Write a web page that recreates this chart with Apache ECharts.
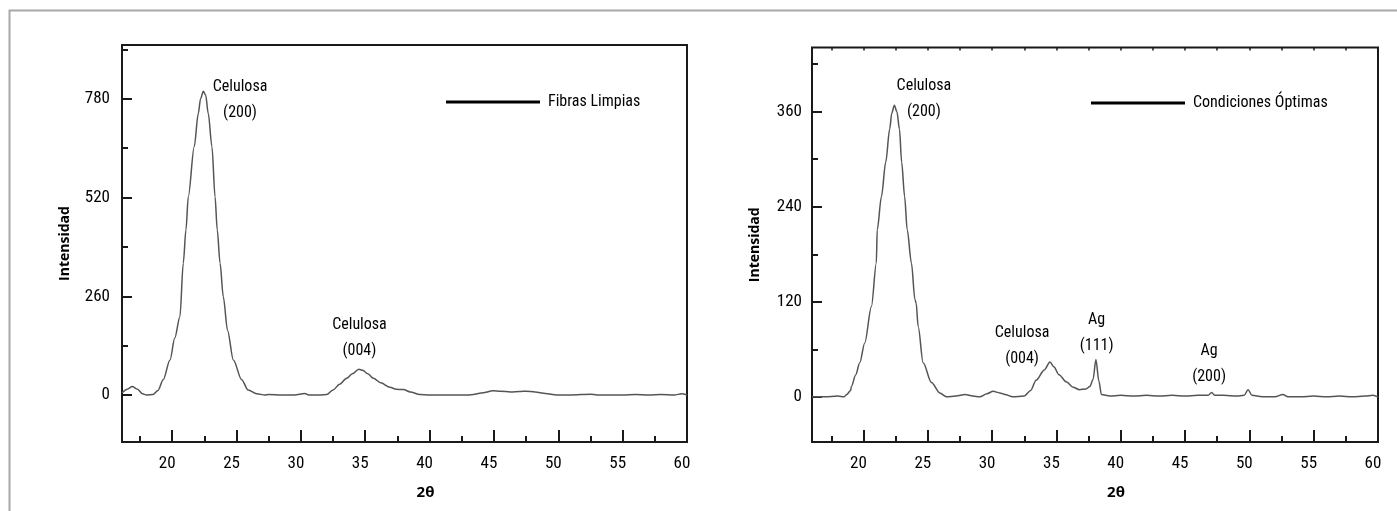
<!DOCTYPE html>
<html>
<head>
<meta charset="utf-8">
<script src="https://cdn.jsdelivr.net/npm/echarts@6/dist/echarts.min.js"></script>
<style>
html,body{margin:0;padding:0;background:#fff;}
#c{width:1397px;height:511px;}
</style>
</head>
<body>
<div id="c"></div>
<script>
// ---- Data ----
const leftName = 'Fibras Limpias';
const rightName = 'Condiciones Óptimas';

const leftX = [16.1,16.5,16.9,17.3,17.7,18.0,18.5,18.9,19.3,19.83,20.2,20.6,20.86,21.07,21.25,21.71,22.03,22.2,22.42,22.6,22.8,23.09,23.33,23.5,23.72,23.97,24.3,24.75,25.4,25.9,26.57,27.2,27.5,28.5,29.5,30.3,30.6,31.5,32.0,32.5,33.0,33.56,34.0,34.5,34.8,35.2,35.63,36.2,36.92,37.4,37.96,38.5,39.25,40,41,42,43,43.4,44,44.95,45.5,46.3,47.0,47.5,48.2,49.0,49.87,51,52.5,53,55,56,57,58,59,59.6,60];
const leftY = [5,15,22,15,3,0,1,12,40,92,150,206,347,435,522,654,742,780,800,790,742,654,522,435,347,259,170,92,40,13,3,0,1,0,0,4,0,0,1,13,28,44,56,68,65,56,44,32,20,15,14,8,1,0,0,0,0,1,5,11,10,8,9,10,8,4,0,0,2,0,0,1,0,1,0,3,0];

const rightX = [16.0,17,18,18.5,18.7,19.0,19.06,19.4,19.71,20.1,20.62,21.0,21.07,21.4,21.73,22.04,22.2,22.4,22.6,22.8,22.97,23.2,23.4,23.73,24.0,24.1,24.25,24.64,25.29,25.93,26.45,27.2,27.9,28.5,29.05,29.6,30.08,30.6,31.0,31.6,32.5,33.0,33.42,34.06,34.5,34.8,35.2,35.77,36.3,36.8,37.3,37.6,37.85,38.07,38.3,38.5,39.15,40,41,42,43,44,45,46,46.8,47.07,47.3,48,49,49.6,49.9,50.2,51,52,52.6,53,54,55,56,57,58,59,59.6,60];
const rightY = [0,0,1,0,3,8,13,28,43,68,114,169,211,253,296,338,358,368,360,338,296,253,211,169,123,118,89,43,18,5,0,1,3,1,0,4,7,5,3,0,1,8,21,34,44,38,28,19,12,9,10,13,22,47,20,3,1,2,1,2,1,2,1,2,2,5.5,2,2,1,2,9,2,0,0,3,0,0,1,0,1,0,1,2,0];

const xMajor = [20,25,30,35,40,45,50,55,60];
const xMinor = [17.5,22.5,27.5,32.5,37.5,42.5,47.5,52.5,57.5];
const leftYMajor = [0,260,520,780];
const leftYMinor = [130,390,650,910];
const rightYMajor = [0,120,240,360];
const rightYMinor = [60,180,300,420];
const rightTopTicks = [17.5,20,22.5,25,27.5,30,32.5,35,37.5,40,42.5,45,47.5,50,52.5,55,57.5];

const leftAnn = [
  {text:'Celulosa\n(200)', x:25.27, y:777},
  {text:'Celulosa\n(004)', x:34.55, y:150}
];
const rightAnn = [
  {text:'Celulosa\n(200)', x:24.7, y:376},
  {text:'Celulosa\n(004)', x:32.33, y:64},
  {text:'Ag\n(111)', x:38.13, y:81},
  {text:'Ag\n(200)', x:46.87, y:41}
];

// ---- Styles ----
const NARROW = '"Roboto Condensed", "Noto Sans Display", sans-serif';
const BOLD = '"Open Sans", "Noto Sans", sans-serif';
const AX = '#1a1a1a';

function zip(xs, ys){ return xs.map((x,i)=>[x, ys[i]]); }

function xAxisMajor(grid, min, withName){
  return {
    type:'value', gridIndex:grid, min:min, max:60, position:'bottom',
    axisLine:{show:false, onZero:false}, splitLine:{show:false},
    axisTick:{show:true, inside:true, length:12, customValues:xMajor, lineStyle:{color:AX, width:2}},
    axisLabel:{show:true, customValues:xMajor, margin:13, color:'#000', fontSize:17, fontFamily:NARROW, padding:[0,10,0,0]},
    name: withName ? '2θ' : '', nameLocation:'middle', nameGap:43,
    nameTextStyle:{fontFamily:BOLD, fontWeight:'bold', fontSize:15, color:'#000', padding:[0,0,0,42]}
  };
}
function xAxisMinor(grid, min){
  return {
    type:'value', gridIndex:grid, min:min, max:60, position:'bottom',
    axisLine:{show:false, onZero:false}, splitLine:{show:false}, axisLabel:{show:false},
    axisTick:{show:true, inside:true, length:6, customValues:xMinor, lineStyle:{color:AX, width:2}}
  };
}
function yAxisMajor(grid, min, max, vals, margin){
  return {
    type:'value', gridIndex:grid, min:min, max:max, position:'left',
    axisLine:{show:false, onZero:false}, splitLine:{show:false},
    axisTick:{show:true, inside:true, length:10, customValues:vals, lineStyle:{color:AX, width:2}},
    axisLabel:{show:true, customValues:vals, margin:margin, color:'#000', fontSize:17, fontFamily:NARROW},
    name:'Intensidad', nameLocation:'middle', nameGap:50, nameRotate:90,
    nameTextStyle:{fontFamily:BOLD, fontWeight:'bold', fontSize:14, color:'#000'}
  };
}
function yAxisMinor(grid, min, max, vals){
  return {
    type:'value', gridIndex:grid, min:min, max:max, position:'left',
    axisLine:{show:false, onZero:false}, splitLine:{show:false}, axisLabel:{show:false},
    axisTick:{show:true, inside:true, length:6, customValues:vals, lineStyle:{color:AX, width:2}}
  };
}
function annMark(list){
  return {
    silent:true, symbol:'circle', symbolSize:0, animation:false,
    itemStyle:{color:'transparent'},
    label:{show:true, position:'inside', formatter:'{b}', color:'#000', fontSize:16,
           fontFamily:NARROW, lineHeight:26, align:'center', verticalAlign:'middle'},
    data:list.map(a=>({name:a.text, coord:[a.x, a.y], value:a.y}))
  };
}

const option = {
  animation:false,
  backgroundColor:'#fff',
  graphic:[{type:'rect', shape:{x:9.5, y:10.5, width:1500, height:600},
            style:{fill:'none', stroke:'#a8a8a8', lineWidth:2}, silent:true}],
  grid:[
    {left:122, top:45, width:565, height:397, show:true, borderColor:AX, borderWidth:2, backgroundColor:'transparent'},
    {left:812, top:47.5, width:566, height:394.5, show:true, borderColor:AX, borderWidth:2, backgroundColor:'transparent'}
  ],
  legend:[
    {data:[leftName], left:446, top:94, padding:0, icon:'rect', itemWidth:94, itemHeight:3,
     itemStyle:{color:'#000'}, textStyle:{fontFamily:NARROW, fontSize:16, color:'#000', padding:[0,0,0,3], lineHeight:16}},
    {data:[rightName], left:1091, top:95, padding:0, icon:'rect', itemWidth:94, itemHeight:3,
     itemStyle:{color:'#000'}, textStyle:{fontFamily:NARROW, fontSize:16, color:'#000', padding:[0,0,0,3], lineHeight:16}}
  ],
  xAxis:[
    xAxisMajor(0, 16.1, true),
    xAxisMinor(0, 16.1),
    xAxisMajor(1, 16.0, true),
    xAxisMinor(1, 16.0),
    {type:'value', gridIndex:1, min:16.0, max:60, position:'top',
     axisLine:{show:false, onZero:false}, splitLine:{show:false}, axisLabel:{show:false},
     axisTick:{show:true, inside:true, length:3, customValues:rightTopTicks, lineStyle:{color:AX, width:1.5}}}
  ],
  yAxis:[
    yAxisMajor(0, -124, 922, leftYMajor, 12),
    yAxisMinor(0, -124, 922, leftYMinor),
    yAxisMajor(1, -57, 441, rightYMajor, 10),
    yAxisMinor(1, -57, 441, rightYMinor)
  ],
  series:[
    {name:leftName, type:'line', xAxisIndex:0, yAxisIndex:0, data:zip(leftX, leftY),
     showSymbol:false, symbol:'none', smooth:0.3, smoothMonotone:'x',
     lineStyle:{color:'#555', width:1.5}, itemStyle:{color:'#000'},
     markPoint:annMark(leftAnn)},
    {name:rightName, type:'line', xAxisIndex:2, yAxisIndex:2, data:zip(rightX, rightY),
     showSymbol:false, symbol:'none', smooth:0.3, smoothMonotone:'x',
     lineStyle:{color:'#555', width:1.5}, itemStyle:{color:'#000'},
     markPoint:annMark(rightAnn)}
  ]
};

const chart = echarts.init(document.getElementById('c'), null, {renderer:'canvas'});
chart.setOption(option);
</script>
</body>
</html>
